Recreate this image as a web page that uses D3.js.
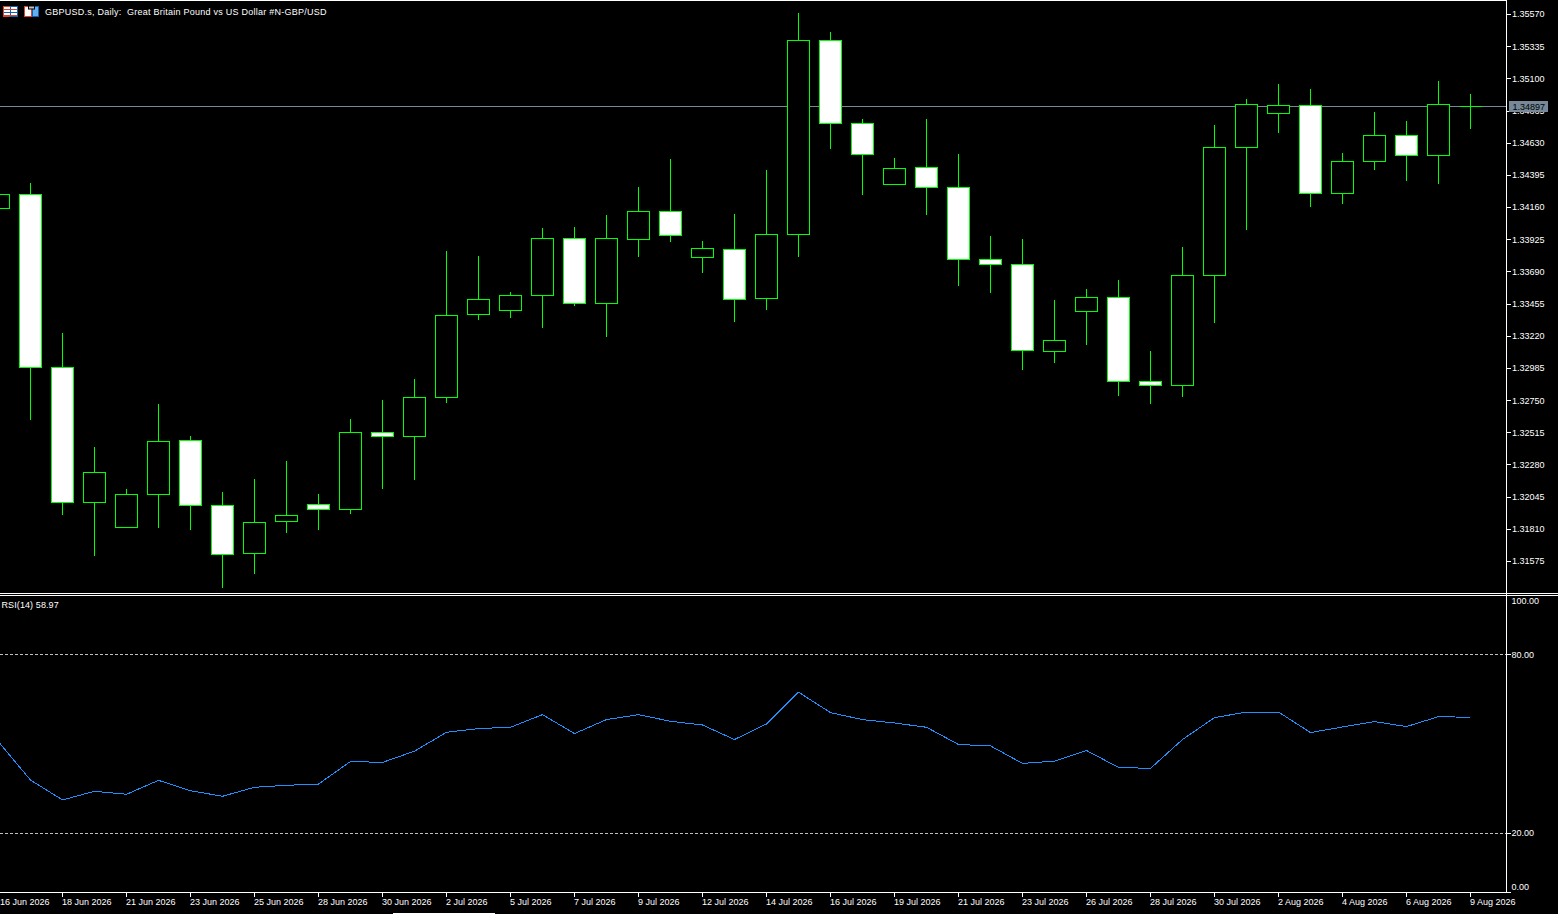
<!DOCTYPE html>
<html>
<head>
<meta charset="utf-8">
<title>GBPUSD.s, Daily</title>
<script src="https://cdn.jsdelivr.net/npm/d3@7"></script>
<style>
    html, body { margin: 0; padding: 0; background: #000; overflow: hidden; }
    svg { display: block; }
    text { font-family: "Liberation Sans", sans-serif; font-size: 9px; fill: #fff; white-space: pre; }
    .axis path { display: none; }
    .axis line { stroke: #fff; shape-rendering: crispEdges; }
    .axis text { fill: #fff; font-family: "Liberation Sans", sans-serif; font-size: 9px; }
    .frame { stroke: #fff; stroke-width: 1; shape-rendering: crispEdges; }
    .wick { stroke: #00ff00; stroke-width: 1; shape-rendering: crispEdges; }
    .body { stroke: #00ff00; stroke-width: 1; shape-rendering: crispEdges; }
    .priceLine { stroke: #778899; stroke-width: 1; shape-rendering: crispEdges; }
    .level { stroke: #c0c0c0; stroke-width: 1; stroke-dasharray: 3,2; shape-rendering: crispEdges; }
    .rsiLine { fill: none; stroke: #1e90ff; stroke-width: 1; shape-rendering: crispEdges; }
</style>
</head>
<body>
<script>
//bar dates, one per candle
var dates = ["16 Jun 2026","17 Jun 2026","18 Jun 2026","19 Jun 2026","21 Jun 2026","22 Jun 2026","23 Jun 2026","24 Jun 2026","25 Jun 2026","26 Jun 2026","28 Jun 2026","29 Jun 2026","30 Jun 2026","1 Jul 2026","2 Jul 2026","3 Jul 2026","5 Jul 2026","6 Jul 2026","7 Jul 2026","8 Jul 2026","9 Jul 2026","10 Jul 2026","12 Jul 2026","13 Jul 2026","14 Jul 2026","15 Jul 2026","16 Jul 2026","17 Jul 2026","19 Jul 2026","20 Jul 2026","21 Jul 2026","22 Jul 2026","23 Jul 2026","24 Jul 2026","26 Jul 2026","27 Jul 2026","28 Jul 2026","29 Jul 2026","30 Jul 2026","31 Jul 2026","2 Aug 2026","3 Aug 2026","4 Aug 2026","5 Aug 2026","6 Aug 2026","7 Aug 2026","9 Aug 2026"];

//OHLC series
var opens = [1.34153,1.34255,1.32992,1.32006,1.31824,1.32065,1.32459,1.31984,1.31634,1.31867,1.31992,1.31955,1.32517,1.32488,1.32773,1.33379,1.33408,1.33518,1.33934,1.33459,1.33927,1.34131,1.33795,1.33854,1.33496,1.33963,1.35380,1.34774,1.34329,1.34453,1.34307,1.33781,1.33744,1.33109,1.33401,1.33503,1.32890,1.32861,1.33664,1.34599,1.34847,1.34905,1.34263,1.34496,1.34686,1.34540,1.34897];
var highs = [1.34255,1.34336,1.33240,1.32408,1.32101,1.32722,1.32488,1.32079,1.32174,1.32306,1.32065,1.32612,1.32751,1.32904,1.33839,1.33803,1.33540,1.34007,1.34015,1.34102,1.34307,1.34511,1.33912,1.34109,1.34431,1.35577,1.35439,1.34803,1.34518,1.34803,1.34548,1.33949,1.33927,1.33481,1.33562,1.33627,1.33109,1.33868,1.34759,1.34949,1.35059,1.35022,1.34555,1.34854,1.34789,1.35081,1.34986];
var lows = [1.34153,1.32612,1.31918,1.31619,1.31824,1.31824,1.31809,1.31385,1.31488,1.31787,1.31809,1.31926,1.32108,1.32174,1.32736,1.33343,1.33357,1.33284,1.33445,1.33218,1.33803,1.33912,1.33686,1.33328,1.33416,1.33803,1.34591,1.34255,1.34329,1.34109,1.33591,1.33540,1.32977,1.33029,1.33160,1.32788,1.32729,1.32780,1.33321,1.34000,1.34708,1.34168,1.34190,1.34438,1.34358,1.34336,1.34738];
var closes = [1.34255,1.32992,1.32006,1.32225,1.32065,1.32452,1.31984,1.31626,1.31860,1.31911,1.31955,1.32517,1.32488,1.32773,1.33372,1.33489,1.33518,1.33934,1.33459,1.33934,1.34131,1.33956,1.33861,1.33489,1.33963,1.35380,1.34774,1.34548,1.34445,1.34307,1.33781,1.33744,1.33116,1.33189,1.33503,1.32890,1.32861,1.33664,1.34599,1.34913,1.34905,1.34263,1.34496,1.34686,1.34540,1.34913,1.34897];

//RSI(14) series
var rsiValues = [50.74,37.86,31.16,34.08,33.07,37.76,34.28,32.40,35.42,36.09,36.52,44.13,43.80,47.59,53.95,55.20,55.63,59.89,53.52,58.21,59.89,57.64,56.40,51.51,56.74,67.46,60.56,58.21,57.07,55.63,49.83,49.36,43.46,44.23,47.82,42.12,41.79,51.51,58.88,60.76,60.76,53.85,55.73,57.54,55.87,59.22,58.97];

//axis labels
var priceTicks = [1.35570,1.35335,1.35100,1.34865,1.34630,1.34395,1.34160,1.33925,1.33690,1.33455,1.33220,1.32985,1.32750,1.32515,1.32280,1.32045,1.31810,1.31575];
var rsiTicks = [100,80,20,0];
var rsiLevels = [80,20];
var dateTicks = dates.filter(function(d, i){ return i % 2 == 0; });
var lastPrice = 1.34897;

var titleText = "GBPUSD.s, Daily:  Great Britain Pound vs US Dollar #N-GBP/USD";
var rsiText = "RSI(14) 58.97";

//indices used to join the series
var bars = dates.map(function(d, i){ return i; });

//frame dimensions
var width = 1558,
    height = 914,
    plotRight = 1506.5,
    halfBody = 11;

var svg = d3.select("body")
    .append("svg")
    .attr("width", width)
    .attr("height", height);

svg.append("rect")
    .attr("width", width)
    .attr("height", height)
    .attr("fill", "#000");

//scales
var x = d3.scalePoint()
    .domain(dates)
    .range([-1.5, 1470.5]);

var yPrice = d3.scaleLinear()
    .domain([1.35570, 1.31575])
    .range([14.5, 561.5]);

var yRsi = d3.scaleLinear()
    .domain([100, 0])
    .range([595.5, 892.5]);

//snap to the pixel row so strokes stay one pixel wide
function snap(v){
    return Math.round(v - 0.5) + 0.5;
}

//current price line sits under the candles
svg.append("line")
    .attr("class", "priceLine")
    .attr("x1", 0)
    .attr("x2", plotRight)
    .attr("y1", snap(yPrice(lastPrice)))
    .attr("y2", snap(yPrice(lastPrice)));

//candle wicks cover the full pixel rows of high and low
svg.selectAll(".wick")
    .data(bars)
    .enter()
    .append("line")
    .attr("class", "wick")
    .attr("x1", function(i){ return x(dates[i]); })
    .attr("x2", function(i){ return x(dates[i]); })
    .attr("y1", function(i){ return snap(yPrice(highs[i])) - 0.5; })
    .attr("y2", function(i){ return snap(yPrice(lows[i])) + 0.5; });

//candle bodies, white when the close is below the open
svg.selectAll(".body")
    .data(bars)
    .enter()
    .append("path")
    .attr("class", "body")
    .attr("d", function(i){
        var cx = x(dates[i]),
            y0 = snap(yPrice(Math.max(opens[i], closes[i]))),
            y1 = snap(yPrice(Math.min(opens[i], closes[i])));
        return "M" + (cx - halfBody) + "," + y0 + "H" + (cx + halfBody) + "V" + y1 + "H" + (cx - halfBody) + "Z";
    })
    .attr("fill", function(i){
        return closes[i] < opens[i] ? "#fff" : "#000";
    });

//RSI levels
svg.selectAll(".level")
    .data(rsiLevels)
    .enter()
    .append("line")
    .attr("class", "level")
    .attr("x1", 0)
    .attr("x2", plotRight)
    .attr("y1", function(d){ return snap(yRsi(d)); })
    .attr("y2", function(d){ return snap(yRsi(d)); });

//RSI line
var rsiPath = d3.line()
    .x(function(d, i){ return x(dates[i]); })
    .y(function(d){ return yRsi(d); });

svg.append("path")
    .datum(rsiValues)
    .attr("class", "rsiLine")
    .attr("d", rsiPath);

//frame lines
var frameLines = [
    [0, 0.5, plotRight, 0.5],
    [0, 593.5, width, 593.5],
    [0, 595.5, width, 595.5],
    [0, 892.5, plotRight, 892.5],
    [plotRight, 0, plotRight, 892.5]
];
svg.selectAll(".frame")
    .data(frameLines)
    .enter()
    .append("line")
    .attr("class", "frame")
    .attr("x1", function(d){ return d[0]; })
    .attr("y1", function(d){ return d[1]; })
    .attr("x2", function(d){ return d[2]; })
    .attr("y2", function(d){ return d[3]; });

//price axis
svg.append("g")
    .attr("class", "axis")
    .attr("transform", "translate(" + plotRight + ",0)")
    .call(d3.axisRight(yPrice)
        .tickValues(priceTicks)
        .tickFormat(d3.format(".5f"))
        .tickSize(4)
        .tickPadding(1.5)
        .offset(0));

//RSI axis, the two end labels are pushed inside the pane
svg.append("g")
    .attr("class", "axis rsiAxis")
    .attr("transform", "translate(" + plotRight + ",0)")
    .call(d3.axisRight(yRsi)
        .tickValues(rsiTicks)
        .tickFormat(d3.format(".2f"))
        .tickSize(4)
        .tickPadding(1)
        .offset(0));

svg.selectAll(".rsiAxis .tick text")
    .attr("dy", function(d){
        if (d == 100) return "8.5px";
        if (d == 0) return "-3px";
        return "0.32em";
    });

//date axis, the first label is kept inside the window
svg.append("g")
    .attr("class", "axis dateAxis")
    .attr("transform", "translate(0,892.5)")
    .call(d3.axisBottom(x)
        .tickValues(dateTicks)
        .tickSize(4)
        .tickPadding(2)
        .offset(0));

svg.selectAll(".dateAxis .tick text")
    .attr("text-anchor", "start")
    .attr("dx", function(d, i){ return i == 0 ? "1.5px" : "-0.5px"; });

//current price tag
svg.append("rect")
    .attr("x", 1509)
    .attr("y", 101)
    .attr("width", 39)
    .attr("height", 11)
    .attr("fill", "#778899");

svg.append("text")
    .attr("x", 1512.5)
    .attr("y", 106.5)
    .attr("dy", "0.35em")
    .style("fill", "#000")
    .text(d3.format(".5f")(lastPrice));

//chart titles
svg.append("text")
    .attr("x", 45)
    .attr("y", 15)
    .style("letter-spacing", "0.25px")
    .text(titleText);

svg.append("text")
    .attr("x", 1.5)
    .attr("y", 608)
    .style("letter-spacing", "0.1px")
    .text(rsiText);

//the two little header icons
var icon1 = svg.append("g").attr("transform", "translate(3,6)");
icon1.append("rect").attr("width", 14).attr("height", 10).attr("x", 0.5).attr("y", 0.5).attr("fill", "#fff").attr("stroke", "#e04030");
icon1.append("rect").attr("x", 7.5).attr("y", 0.5).attr("width", 7).attr("height", 10).attr("fill", "#fff").attr("stroke", "#1060b0");
icon1.selectAll(".row").data([3, 6, 9]).enter().append("line")
    .attr("x1", 1).attr("x2", 14).attr("y1", function(d){ return d + 0.5; }).attr("y2", function(d){ return d + 0.5; })
    .attr("stroke", function(d, i){ return i == 1 ? "#1060b0" : "#e04030"; });

var icon2 = svg.append("g").attr("transform", "translate(24,6)");
icon2.append("rect").attr("x", 0.5).attr("y", 0.5).attr("width", 7).attr("height", 10).attr("fill", "#fff").attr("stroke", "#e04030");
icon2.append("rect").attr("x", 8.5).attr("y", 0.5).attr("width", 6).attr("height", 10).attr("fill", "#60b0f0").attr("stroke", "#1060b0");
icon2.append("rect").attr("x", 4.5).attr("y", 0).attr("width", 6).attr("height", 3).attr("fill", "#c0c0c0").attr("stroke", "#000");

//scroll marker along the bottom edge
svg.append("rect")
    .attr("x", 393)
    .attr("y", 913)
    .attr("width", 102)
    .attr("height", 1)
    .attr("fill", "#fff");
</script>
</body>
</html>
